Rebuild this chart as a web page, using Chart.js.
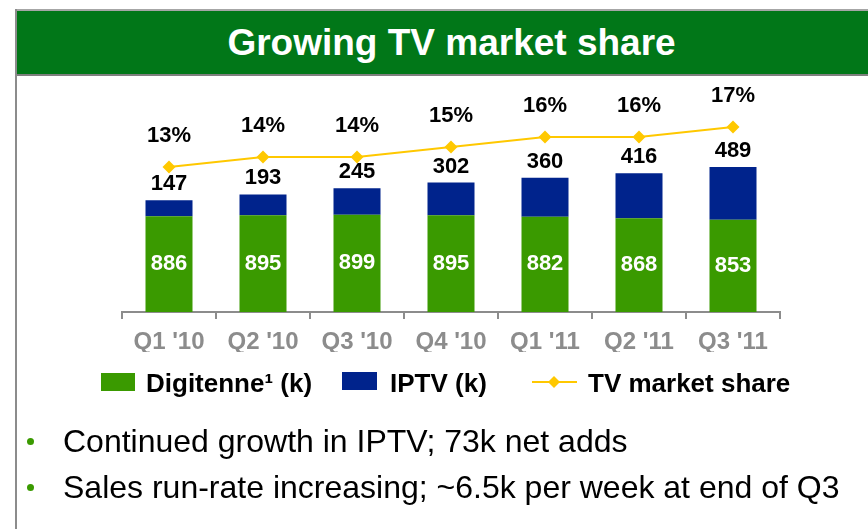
<!DOCTYPE html>
<html><head><meta charset="utf-8">
<script src="https://cdn.jsdelivr.net/npm/chart.js@4/dist/chart.umd.min.js"></script>
<style>
html,body{margin:0;padding:0;background:#fff;}
body{width:868px;height:529px;position:relative;overflow:hidden;font-family:"Liberation Sans",Arial,sans-serif;}
#topline{position:absolute;left:15px;top:9px;width:853px;height:2px;background:#a6a6a6;}
#leftline{position:absolute;left:15px;top:9px;width:2px;height:520px;background:#8c8c8c;}
#header{position:absolute;left:17px;top:11px;width:851px;height:63px;background:#017718;border-bottom:2px solid #7f7f7f;}
#title{position:absolute;left:17px;top:11px;width:869px;height:63px;line-height:63px;text-align:center;color:#fff;font-weight:bold;font-size:37px;white-space:nowrap;}
#chart{position:absolute;left:0;top:0;}
.bullet{position:absolute;left:63px;font-size:32px;line-height:46px;color:#000;white-space:nowrap;}
.dot{position:absolute;width:7px;height:7px;border-radius:50%;background:#3a9a00;left:27px;}
</style>
</head>
<body>
<div id="topline"></div>
<div id="leftline"></div>
<div id="header"></div>
<div id="title">Growing TV market share</div>
<canvas id="chart" width="868" height="529"></canvas>
<div class="dot" style="top:438px"></div>
<div class="bullet" style="top:418px">Continued growth in IPTV; 73k net adds</div>
<div class="dot" style="top:484px"></div>
<div class="bullet" style="top:464px">Sales run-rate increasing; ~6.5k per week at end of Q3</div>
<script>
const categories = ["Q1 '10", "Q2 '10", "Q3 '10", "Q4 '10", "Q1 '11", "Q2 '11", "Q3 '11"];
const digitenne = [886, 895, 899, 895, 882, 868, 853];
const iptv = [147, 193, 245, 302, 360, 416, 489];
const marketShare = [13, 14, 14, 15, 16, 16, 17];
const seriesNames = ["Digitenne\u00B9 (k)", "IPTV (k)", "TV market share"];

const GREEN = '#3a9a00', BLUE = '#00238c', GOLD = '#ffc800';
const FONT = '"Liberation Sans", Arial, sans-serif';

const labelPlugin = {
  id: 'valueLabels',
  afterDatasetsDraw(chart) {
    const ctx = chart.ctx;
    ctx.save();
    ctx.textAlign = 'center';
    ctx.textBaseline = 'middle';
    ctx.font = 'bold 22px ' + FONT;
    chart.getDatasetMeta(1).data.forEach((el, i) => {
      const p = el.getProps(['x', 'y', 'base'], true);
      ctx.fillStyle = '#ffffff';
      ctx.fillText(String(digitenne[i]), p.x, (p.y + p.base) / 2);
    });
    chart.getDatasetMeta(2).data.forEach((el, i) => {
      const p = el.getProps(['x', 'y'], true);
      ctx.fillStyle = '#000000';
      ctx.fillText(String(iptv[i]), p.x, p.y - 16);
    });
    chart.getDatasetMeta(0).data.forEach((el, i) => {
      const p = el.getProps(['x', 'y'], true);
      ctx.fillStyle = '#000000';
      ctx.fillText(marketShare[i] + '%', p.x, p.y - 31);
    });
    ctx.restore();
  }
};

const legendPlugin = {
  id: 'customLegend',
  afterDraw(chart) {
    const ctx = chart.ctx;
    ctx.save();
    ctx.font = 'bold 26px ' + FONT;
    ctx.textBaseline = 'alphabetic';
    ctx.textAlign = 'left';
    ctx.fillStyle = GREEN;
    ctx.fillRect(101, 373, 34, 18);
    ctx.fillStyle = '#000';
    ctx.fillText(chart.data.datasets[1].label, 146, 392);
    ctx.fillStyle = BLUE;
    ctx.fillRect(342, 372, 35, 18);
    ctx.fillStyle = '#000';
    ctx.fillText(chart.data.datasets[2].label, 390, 392);
    ctx.strokeStyle = GOLD;
    ctx.lineWidth = 2;
    ctx.beginPath();
    ctx.moveTo(532, 382); ctx.lineTo(577, 382);
    ctx.stroke();
    ctx.fillStyle = GOLD;
    ctx.beginPath();
    ctx.moveTo(554, 376); ctx.lineTo(560, 382); ctx.lineTo(554, 388); ctx.lineTo(548, 382);
    ctx.closePath(); ctx.fill();
    ctx.fillStyle = '#000';
    ctx.fillText(chart.data.datasets[0].label, 588, 392);
    ctx.restore();
  }
};

new Chart(document.getElementById('chart'), {
  type: 'bar',
  data: {
    labels: categories,
    datasets: [
      {
        type: 'line', label: seriesNames[2], data: marketShare, yAxisID: 'y2', order: 0,
        borderColor: GOLD, borderWidth: 2, backgroundColor: GOLD,
        pointStyle: 'rectRot', pointRadius: 6.5, pointBorderWidth: 0,
        pointBackgroundColor: GOLD, tension: 0, fill: false
      },
      { label: seriesNames[0], data: digitenne, backgroundColor: GREEN, order: 1, stack: 's',
        barPercentage: 0.5, categoryPercentage: 1.0 },
      { label: seriesNames[1], data: iptv, backgroundColor: BLUE, order: 1, stack: 's',
        barPercentage: 0.5, categoryPercentage: 1.0 }
    ]
  },
  options: {
    responsive: false,
    animation: false,
    devicePixelRatio: 1,
    layout: { padding: { left: 122, right: 88, top: 80, bottom: 177 } },
    plugins: { legend: { display: false }, tooltip: { enabled: false }, title: { display: false } },
    scales: {
      x: {
        stacked: true,
        offset: true,
        grid: { display: true, drawOnChartArea: false, drawTicks: true, tickLength: 7, color: '#8c8c8c', lineWidth: 2, offset: true },
        border: { display: true, color: '#8c8c8c', width: 2 },
        ticks: { color: '#8c8c8c', font: { family: FONT, size: 24, weight: 'bold' }, padding: 9, maxRotation: 0, autoSkip: false },
        afterFit(scale) { scale.height = 40; }
      },
      y: { stacked: true, display: false, min: 0, max: 2146 },
      y2: { display: false, min: -1.5, max: 21.7, position: 'right' }
    }
  },
  plugins: [labelPlugin, legendPlugin]
});
</script>
</body></html>
